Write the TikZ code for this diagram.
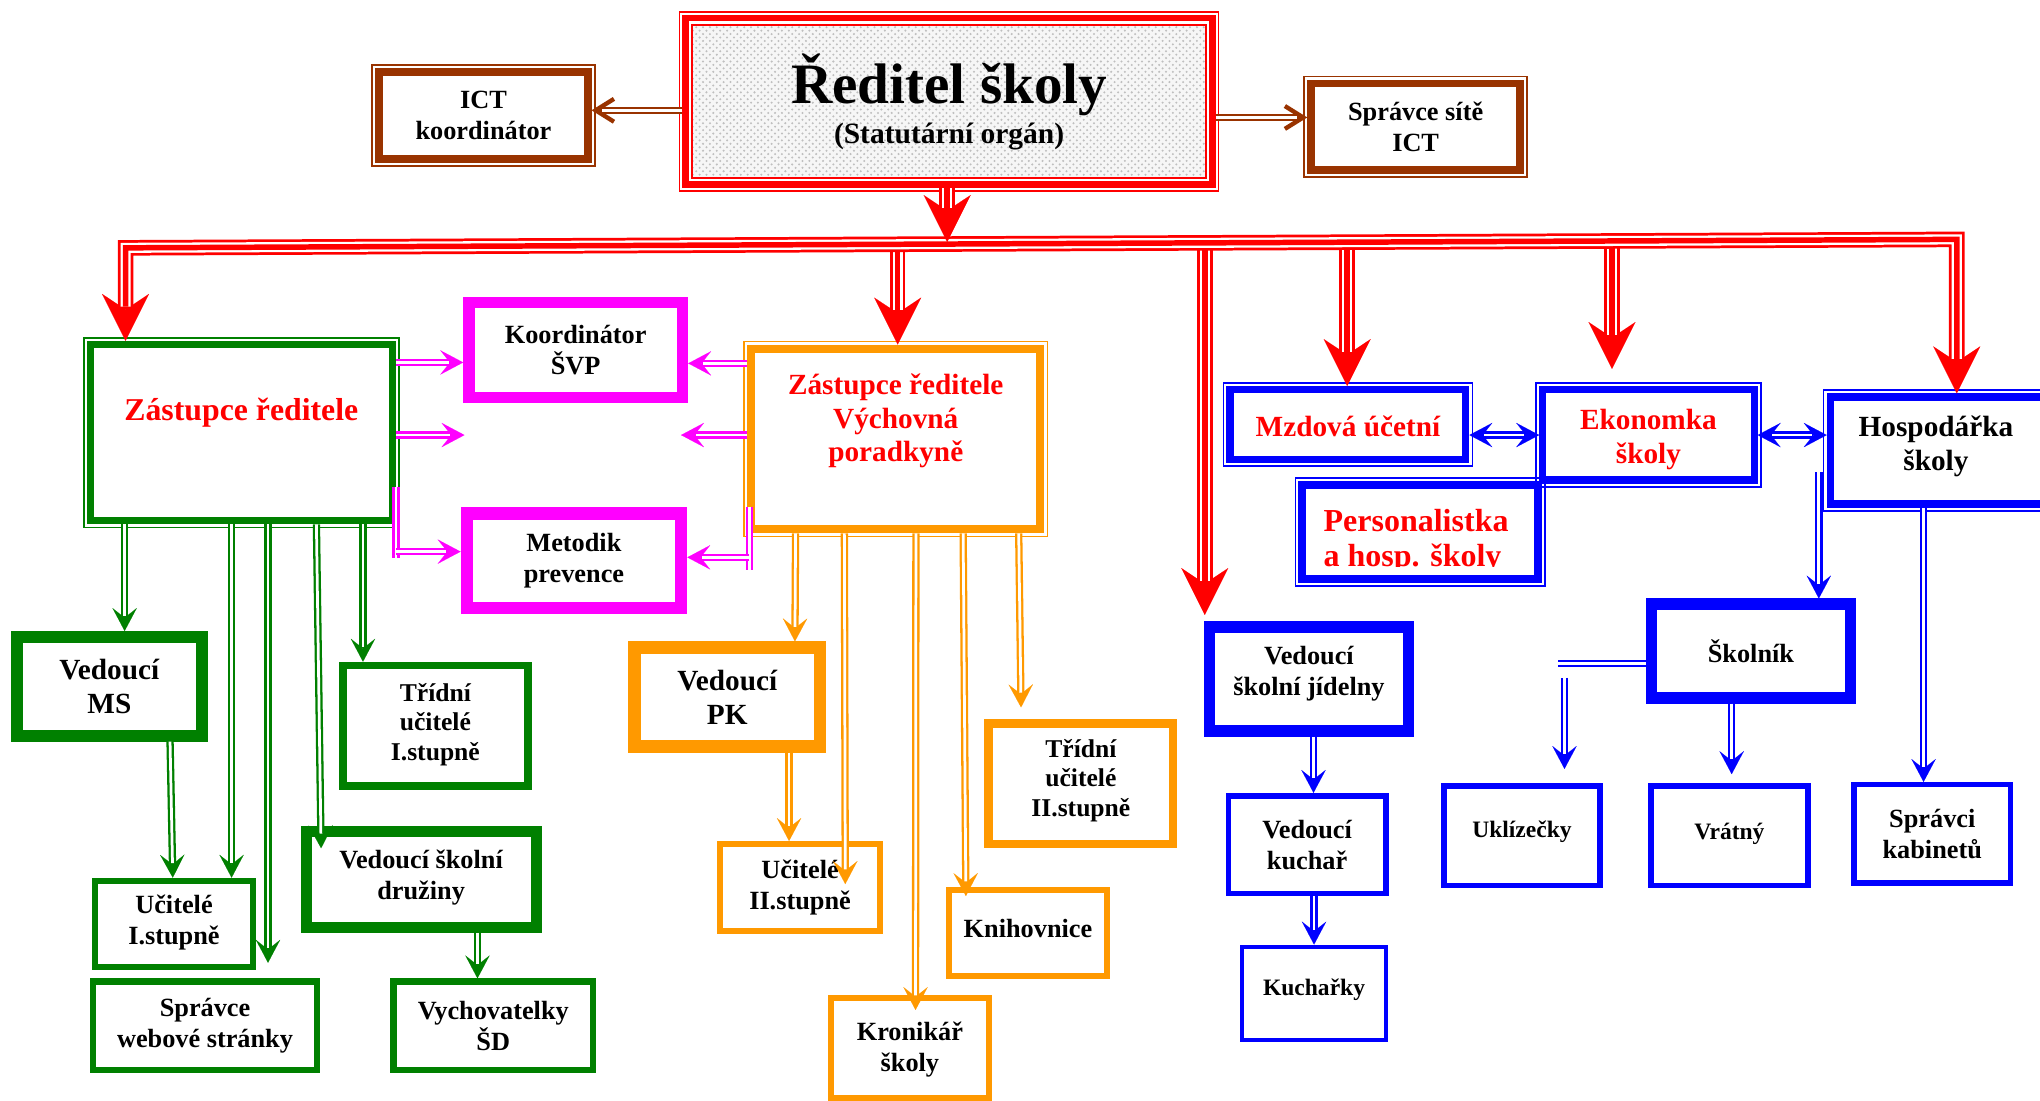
\documentclass[tikz,border=0pt]{standalone}
\usepackage{fontspec}
\setmainfont{Liberation Serif}
\usetikzlibrary{arrows.meta,fit,patterns,calc}
\definecolor{cRed}{RGB}{255,0,0}
\definecolor{cBrown}{RGB}{153,51,0}
\definecolor{cGreen}{RGB}{0,128,0}
\definecolor{cMag}{RGB}{255,0,255}
\definecolor{cOrange}{RGB}{255,153,0}
\definecolor{cBlue}{RGB}{0,0,255}
\newcommand\fS{\fontsize{10.3pt}{12pt}\selectfont\bfseries}
\newcommand\fA{\fontsize{11.5pt}{13.6pt}\selectfont\bfseries}
\newcommand\fT{\fontsize{11.2pt}{12.9pt}\selectfont\bfseries}
\newcommand\fB{\fontsize{12.8pt}{14.8pt}\selectfont\bfseries}
\tikzset{
  bx/.style={rectangle, draw=#1, fill=white},
  tx/.style={align=center, text=black, font=\fA, inner sep=0pt},
  frm/.style={draw=#1, line width=0.7pt},
  dl/.style={draw=#1, line width=3.2pt,
     -{Stealth[length=10pt,width=10.6pt,inset=4.2pt,line width=0.01pt]},
     postaction={draw=white, line width=1.2pt, -, shorten >=6.4pt}},
  dlb/.style={draw=#1, line width=3.2pt,
     {Stealth[length=10pt,width=10.6pt,inset=4.2pt,line width=0.01pt]}-{Stealth[length=10pt,width=10.6pt,inset=4.2pt,line width=0.01pt]},
     postaction={draw=white, line width=1.2pt, -, shorten >=6.4pt, shorten <=6.4pt}},
  dl0/.style={draw=#1, line width=3.2pt, postaction={draw=white, line width=1.2pt}},
  brarr/.style={draw=cBrown, line width=3.2pt,
     -{Straight Barb[length=8pt,width=10pt,line width=1.9pt]},
     postaction={draw=white, line width=1.2pt, -, shorten >=4.5pt}},
  tr/.style={draw=cRed, line width=6.8pt,
     -{Stealth[length=20.5pt,width=20.5pt,inset=6.8pt,line width=0.01pt]},
     postaction={draw=white, line width=4.4pt, -, shorten >=15pt},
     postaction={draw=cRed, line width=2.4pt, -, shorten >=15pt}},
  trb/.style={draw=cRed, line width=6.8pt,
     {Stealth[length=20.5pt,width=20.5pt,inset=6.8pt,line width=0.01pt]}-{Stealth[length=20.5pt,width=20.5pt,inset=6.8pt,line width=0.01pt]},
     postaction={draw=white, line width=4.4pt, -, shorten >=15pt, shorten <=15pt},
     postaction={draw=cRed, line width=2.4pt, -, shorten >=15pt, shorten <=15pt}},
}
\begin{document}
\begin{tikzpicture}[x=0.2mm,y=-0.2mm]
\useasboundingbox (0,0) rectangle (1568,846);
\clip (0,0) rectangle (1568,846);

% ---------- director ----------
\fill[preaction={fill=gray!7}, pattern=crosshatch dots, pattern color=gray!50] (532,19) rectangle (927,137);
\draw[frm=cRed] (532,19) rectangle (927,137);
\draw[frm=cRed] (522.4,9.4) rectangle (936.6,146.6);
\node[draw=cRed, line width=2.85pt, inner sep=-1.42pt, fit={(524.5,11.5) (934.5,144.5)}] (dir) {};
\node[tx, font=\fontsize{25pt}{28pt}\selectfont\bfseries] (dirT) at (729.5,65.5) {Ředitel školy};
\node[tx, font=\fontsize{12.9pt}{15pt}\selectfont\bfseries] (dirS) at (729.5,105) {(Statutární orgán)};

% ---------- ICT ----------
\draw[frm=cBrown] (286.1,50.1) rectangle (457.1,127.5);
\node[bx=cBrown, line width=3.4pt, inner sep=-1.7pt, fit={(288.5,52.5) (454.7,125.1)}] (ict) {};
\node[tx] (ictT) at (ict) {ICT\\koordinátor};
\draw[frm=cBrown] (1002.4,58.8) rectangle (1173.8,136);
\node[bx=cBrown, line width=3.4pt, inner sep=-1.7pt, fit={(1004.8,61.2) (1171.4,133.6)}] (ssi) {};
\node[tx] (ssiT) at (ssi) {Správce sítě\\ICT};

% ---------- deputies ----------
\draw[frm=cGreen] (64.6,259.6) rectangle (306.8,405.4);
\node[bx=cGreen, line width=3.1pt, inner sep=-1.55pt, fit={(67,262) (304.4,403)}] (zr) {};
\node[tx, text=cRed, font=\fontsize{13.9pt}{16pt}\selectfont\bfseries] (zrT) at (185.5,317.5) {Zástupce ředitele};

\draw[frm=cOrange] (571.9,262.4) rectangle (805.2,412.4);
\node[bx=cOrange, line width=3.6pt, inner sep=-1.8pt, fit={(574.3,264.8) (802.8,410)}] (vp) {};
\node[tx, text=cRed, font=\fB] (vpT) at (688.5,323.5) {Zástupce ředitele\\Výchovná\\poradkyně};

% ---------- economy ----------
\draw[frm=cBlue] (940.3,294.3) rectangle (1131.8,358.4);
\node[bx=cBlue, line width=3.1pt, inner sep=-1.55pt, fit={(942.7,296.7) (1129.4,356)}] (mz) {};
\node[tx, text=cRed, font=\fB] (mzT) at ([yshift=-0.9pt]mz.center) {Mzdová účetní};

\draw[frm=cBlue] (995.6,367.6) rectangle (1187.7,450.4);
\node[bx=cBlue, line width=3.4pt, inner sep=-1.7pt, fit={(998,370) (1185.3,448)}] (pe) {};
\node[tx, text=cRed, font=\fontsize{14pt}{15.5pt}\selectfont\bfseries, anchor=base west] (peT) at (1017,408.2) {Personalistka};
\begin{scope}
\clip (1000,412) rectangle (1180,435.5);
\node[tx, text=cRed, font=\fontsize{14pt}{15.5pt}\selectfont\bfseries, anchor=base west] (peT2) at (1017,435.3) {a hosp. školy};
\end{scope}

\draw[frm=cBlue] (1180.6,294.3) rectangle (1353.4,374.1);
\node[bx=cBlue, line width=3.1pt, inner sep=-1.55pt, fit={(1183,296.7) (1351,371.7)}] (ek) {};
\node[tx, text=cRed, font=\fB] (ekT) at ([yshift=-2pt]ek.center) {Ekonomka\\školy};

\draw[frm=cBlue] (1401.6,299.9) rectangle (1600,392.7);
\node[bx=cBlue, line width=3.4pt, inner sep=-1.7pt, fit={(1404,302.3) (1582,390.3)}] (hs) {};
\node[tx, font=\fB] (hsT) at (1488,343) {Hospodářka\\školy};

% ---------- single boxes ----------
\node[bx=cMag, line width=5.1pt, inner sep=-2.55pt, fit={(356,228) (529,310)}] (kv) {};
\node[tx] (kvT) at (kv) {Koordinátor\\ŠVP};
\node[bx=cMag, line width=5.4pt, inner sep=-2.7pt, fit={(354,390) (528.3,472)}] (me) {};
\node[tx] (meT) at (me) {Metodik\\prevence};

\node[bx=cGreen, line width=5.1pt, inner sep=-2.55pt, fit={(8.5,485) (159.6,570)}] (ms) {};
\node[tx, font=\fB] (msT) at (ms) {Vedoucí\\MS};
\node[bx=cGreen, line width=3.4pt, inner sep=-1.7pt, fit={(260.5,508.6) (408.8,607)}] (t1) {};
\node[tx, font=\fT] (t1T) at ([yshift=0.6pt]t1.center) {Třídní\\učitelé\\I.stupně};
\node[bx=cGreen, line width=2.6pt, inner sep=-1.3pt, fit={(70.5,674.6) (197,745.6)}] (ui) {};
\node[tx] (uiT) at ([yshift=0.6pt]ui.center) {Učitelé\\I.stupně};
\node[bx=cGreen, line width=4.8pt, inner sep=-2.4pt, fit={(231,635) (416.4,717)}] (sd) {};
\node[tx] (sdT) at ([yshift=0.8pt]sd.center) {Vedoucí školní\\družiny};
\node[bx=cGreen, line width=2.85pt, inner sep=-1.42pt, fit={(69,752) (246.2,825)}] (sw) {};
\node[tx] (swT) at (sw) {Správce\\webové stránky};
\node[bx=cGreen, line width=2.85pt, inner sep=-1.42pt, fit={(300,752) (458.3,825)}] (vy) {};
\node[tx] (vyT) at (vy) {Vychovatelky\\ŠD};

\node[bx=cOrange, line width=5.4pt, inner sep=-2.7pt, fit={(483,493) (635,578.5)}] (pk) {};
\node[tx, font=\fB] (pkT) at (pk) {Vedoucí\\PK};
\node[bx=cOrange, line width=2.6pt, inner sep=-1.3pt, fit={(551.4,646.4) (678.5,718)}] (u2) {};
\node[tx] (u2T) at (u2) {Učitelé\\II.stupně};
\node[bx=cOrange, line width=3.7pt, inner sep=-1.85pt, fit={(756.6,553) (905,652)}] (t2) {};
\node[tx, font=\fT] (t2T) at ([yshift=1.4pt]t2.center) {Třídní\\učitelé\\II.stupně};
\node[bx=cOrange, line width=2.6pt, inner sep=-1.3pt, fit={(727.1,682) (853.2,752.7)}] (kn) {};
\node[tx] (knT) at ([yshift=2.3pt]kn.center) {Knihovnice};
\node[bx=cOrange, line width=2.45pt, inner sep=-1.22pt, fit={(636.6,764.8) (762.1,846)}] (kr) {};
\node[tx] (krT) at ([yshift=-0.9pt]kr.center) {Kronikář\\školy};

\node[bx=cBlue, line width=5pt, inner sep=-2.5pt, fit={(925.2,477.7) (1087,566.3)}] (vj) {};
\node[tx] (vjT) at ([yshift=2.3pt]vj.center) {Vedoucí\\školní jídelny};
\node[bx=cBlue, line width=2.5pt, inner sep=-1.25pt, fit={(942,609.4) (1067.3,689)}] (kc) {};
\node[tx] (kcT) at (kc) {Vedoucí\\kuchař};
\node[bx=cBlue, line width=1.8pt, inner sep=-0.9pt, fit={(953,726) (1067,801)}] (ky) {};
\node[tx, font=\fS] (kyT) at ([yshift=1.4pt]ky.center) {Kuchařky};
\node[bx=cBlue, line width=5pt, inner sep=-2.5pt, fit={(1265,460) (1426.6,540.8)}] (sk) {};
\node[tx] (skT) at (sk) {Školník};
\node[bx=cBlue, line width=2.4pt, inner sep=-1.2pt, fit={(1107.7,602) (1232,682.6)}] (uk) {};
\node[tx, font=\fS] (ukT) at ([yshift=1.9pt]uk.center) {Uklízečky};
\node[bx=cBlue, line width=2.4pt, inner sep=-1.2pt, fit={(1266.8,602) (1391.7,682.6)}] (vr) {};
\node[tx, font=\fS] (vrT) at ([yshift=0.6pt]vr.center) {Vrátný};
\node[bx=cBlue, line width=2.4pt, inner sep=-1.2pt, fit={(1422.9,601) (1547.5,680.8)}] (sc) {};
\node[tx] (scT) at (sc) {Správci\\kabinetů};

% ---------- red distribution ----------
\coordinate (b1) at (690,187.8);
\coordinate (b2) at (926,186.7);
\coordinate (b3) at (1035.5,186.2);
\coordinate (b4) at (1239,185.2);
\coordinate (vjTip) at (926,472.7);
\coordinate (ekTip) at (1239,283.6);
\coordinate (bD) at (728,186);
\draw[tr] (b1) -- (vp.north -| b1);
\draw[tr] (b2) -- (vjTip);
\draw[tr] (b3) -- (mz.north -| b3);
\draw[tr] (b4) -- (ekTip);
\draw[trb] (zr.north -| 96.5,0) -- (96.5,190.5) -- (1504,184) -- (hs.north -| 1504,0);
\draw[tr] (dir.south -| bD) -- (bD);

% ---------- brown ----------
\draw[brarr] (dir.west |- 0,84.8) -- (ict.east |- 0,84.8);
\draw[brarr] (dir.east |- 0,90.3) -- (ssi.west |- 0,90.3);

% ---------- magenta ----------
\coordinate (mA) at (357,334.4);
\coordinate (mC) at (523.5,334.4);
\coordinate (mB1) at (304.4,374);
\coordinate (mB2) at (304.4,429);
\coordinate (mD1) at (576,389.4);
\coordinate (mD2) at (576,438.5);
\draw[dl=cMag] (zr.east |- 0,278.6) -- (kv.west |- 0,278.6);
\draw[dl=cMag] (zr.east |- 0,334.4) -- (mA);
\draw[dl0=cMag] (mB1) -- (mB2);
\draw[dl=cMag] (mB1 |- 0,424) -- (me.west |- 0,424);
\draw[dl=cMag] (vp.west |- 0,279.3) -- (kv.east |- 0,279.3);
\draw[dl=cMag] (vp.west |- 0,334.4) -- (mC);
\draw[dl0=cMag] (mD1) -- (mD2);
\draw[dl=cMag] (mD1 |- 0,428.4) -- (me.east |- 0,428.4);

% ---------- green ----------
\coordinate (gT1) at (206,740);
\coordinate (gT2) at (246.8,652);
\draw[dl=cGreen] (zr.south -| 95.8,0) -- (ms.north -| 95.8,0);
\draw[dl=cGreen] (zr.south -| 178,0) -- (ui.north -| 178,0);
\draw[dl=cGreen] (zr.south -| gT1) -- (gT1);
\draw[dl=cGreen] (zr.south -| 243.2,0) -- (gT2);
\draw[dl=cGreen] (zr.south -| 279,0) -- (t1.north -| 279,0);
\draw[dl=cGreen] (ms.south -| 130.7,0) -- (ui.north -| 132.8,0);
\draw[dl=cGreen] (sd.south -| 367,0) -- (vy.north -| 367,0);

% ---------- orange ----------
\coordinate (oT1) at (649.7,679.5);
\coordinate (oT2) at (703.7,776.3);
\coordinate (oT3) at (742.4,688.7);
\coordinate (oT4) at (784.8,543.7);
\draw[dl=cOrange] (vp.south -| 611.5,0) -- (pk.north -| 611,0);
\draw[dl=cOrange] (vp.south -| 649,0) -- (oT1);
\draw[dl=cOrange] (vp.south -| 704,0) -- (oT2);
\draw[dl=cOrange] (vp.south -| 740.3,0) -- (oT3);
\draw[dl=cOrange] (vp.south -| 783,0) -- (oT4);
\draw[dl=cOrange] (pk.south -| 606.5,0) -- (u2.north -| 606.5,0);

% ---------- blue ----------
\coordinate (bT0) at (1398,363);
\coordinate (bH) at (1197.4,510);
\coordinate (bV1) at (1202.5,521);
\coordinate (bV2) at (1202.5,591);
\coordinate (bT2) at (1331,595);
\draw[dlb=cBlue] (mz.east |- 0,334.4) -- (ek.west |- 0,334.4);
\draw[dlb=cBlue] (ek.east |- 0,334.4) -- (hs.west |- 0,334.4);
\draw[dl=cBlue] (bT0) -- (sk.north -| bT0);
\draw[dl0=cBlue] (sk.west |- bH) -- (bH);
\draw[dl=cBlue] (bV1) -- (bV2);
\draw[dl=cBlue] (sk.south -| bT2) -- (bT2);
\draw[dl=cBlue] (hs.south -| 1478.5,0) -- (sc.north -| 1478.5,0);
\draw[dl=cBlue] (vj.south -| 1009.6,0) -- (kc.north -| 1009.6,0);
\draw[dl=cBlue] (kc.south -| 1010,0) -- (ky.north -| 1010,0);
\end{tikzpicture}
\end{document}
